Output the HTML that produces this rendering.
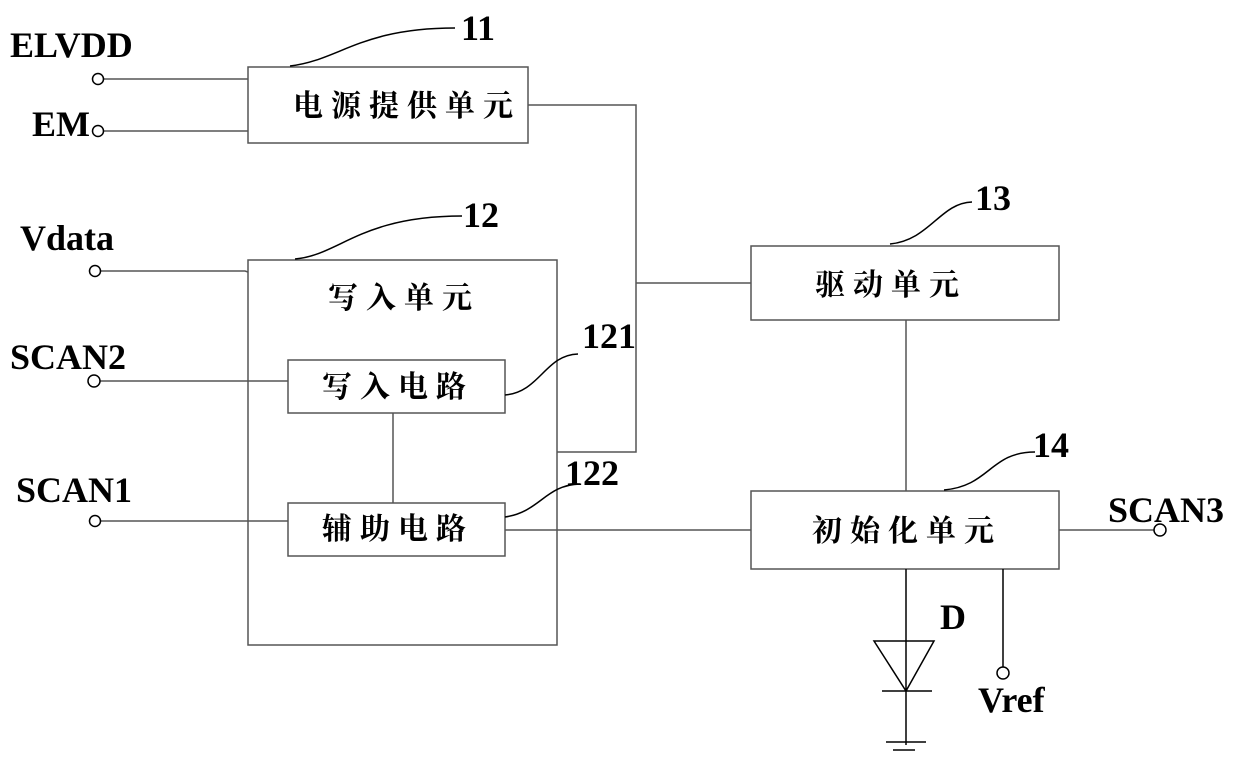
<!DOCTYPE html>
<html><head><meta charset="utf-8"><style>
html,body{margin:0;padding:0;background:#fff;}
svg{display:block}
.l{font-family:"Liberation Serif",serif;font-weight:bold;font-size:36px;fill:#000}
.c{font-family:"Liberation Serif","Noto Serif CJK SC",serif;font-weight:bold;font-size:30px;fill:#000;letter-spacing:8px}
</style></head><body>
<svg width="1240" height="761" viewBox="0 0 1240 761" xmlns="http://www.w3.org/2000/svg">
<g fill="none" stroke="#555" stroke-width="1.5">
<rect x="248" y="67" width="280" height="76"/>
<rect x="248" y="260" width="309" height="385"/>
<rect x="288" y="360" width="217" height="53"/>
<rect x="288" y="503" width="217" height="53"/>
<rect x="751" y="246" width="308" height="74"/>
<rect x="751" y="491" width="308" height="78"/>
<path d="M528 105H636V452H557M636 283H751M906 320V491M393 413V503M505 530H751M1059 530H1154"/>
<path d="M104 79H248M104 131H248M101 271H245L248 272M100 381H288M101 521H288"/>
</g>
<g fill="none" stroke="#000" stroke-width="1.5">
<circle cx="98" cy="79" r="5.5"/><circle cx="98" cy="131" r="5.5"/>
<circle cx="95" cy="271" r="5.5"/><circle cx="94" cy="381" r="6"/>
<circle cx="95" cy="521" r="5.5"/><circle cx="1160" cy="530" r="6"/>
<circle cx="1003" cy="673" r="6"/>
<path d="M906 569V745M1003 569V667M874 641H934L906 691ZM882 691H932M886 742H926M893 750H915"/>
<path d="M290 66C340 60 360 28 455 28M295 259C340 255 360 216 462 216M505 395C540 392 545 355 578 354M505 517C540 512 545 485 580 484M890 244C930 240 940 203 972 202M944 490C990 486 990 452 1035 452"/>
</g>
<text class="l" x="10" y="57">ELVDD</text>
<text class="l" x="32" y="136">EM</text>
<text class="l" x="20" y="250">Vdata</text>
<text class="l" x="10" y="369">SCAN2</text>
<text class="l" x="16" y="502">SCAN1</text>
<text class="l" x="1108" y="522">SCAN3</text>
<text class="l" x="940" y="629">D</text>
<text class="l" x="978" y="712">Vref</text>
<text class="l" x="461" y="40">11</text>
<text class="l" x="463" y="227">12</text>
<text class="l" x="582" y="348">121</text>
<text class="l" x="565" y="485">122</text>
<text class="l" x="975" y="210">13</text>
<text class="l" x="1033" y="457">14</text>
<text class="c" x="293" y="116">电源提供单元</text>
<text class="c" x="328" y="308">写入单元</text>
<text class="c" x="322" y="397">写入电路</text>
<text class="c" x="322" y="539">辅助电路</text>
<text class="c" x="815" y="295">驱动单元</text>
<text class="c" x="812" y="541">初始化单元</text>
</svg>
</body></html>
